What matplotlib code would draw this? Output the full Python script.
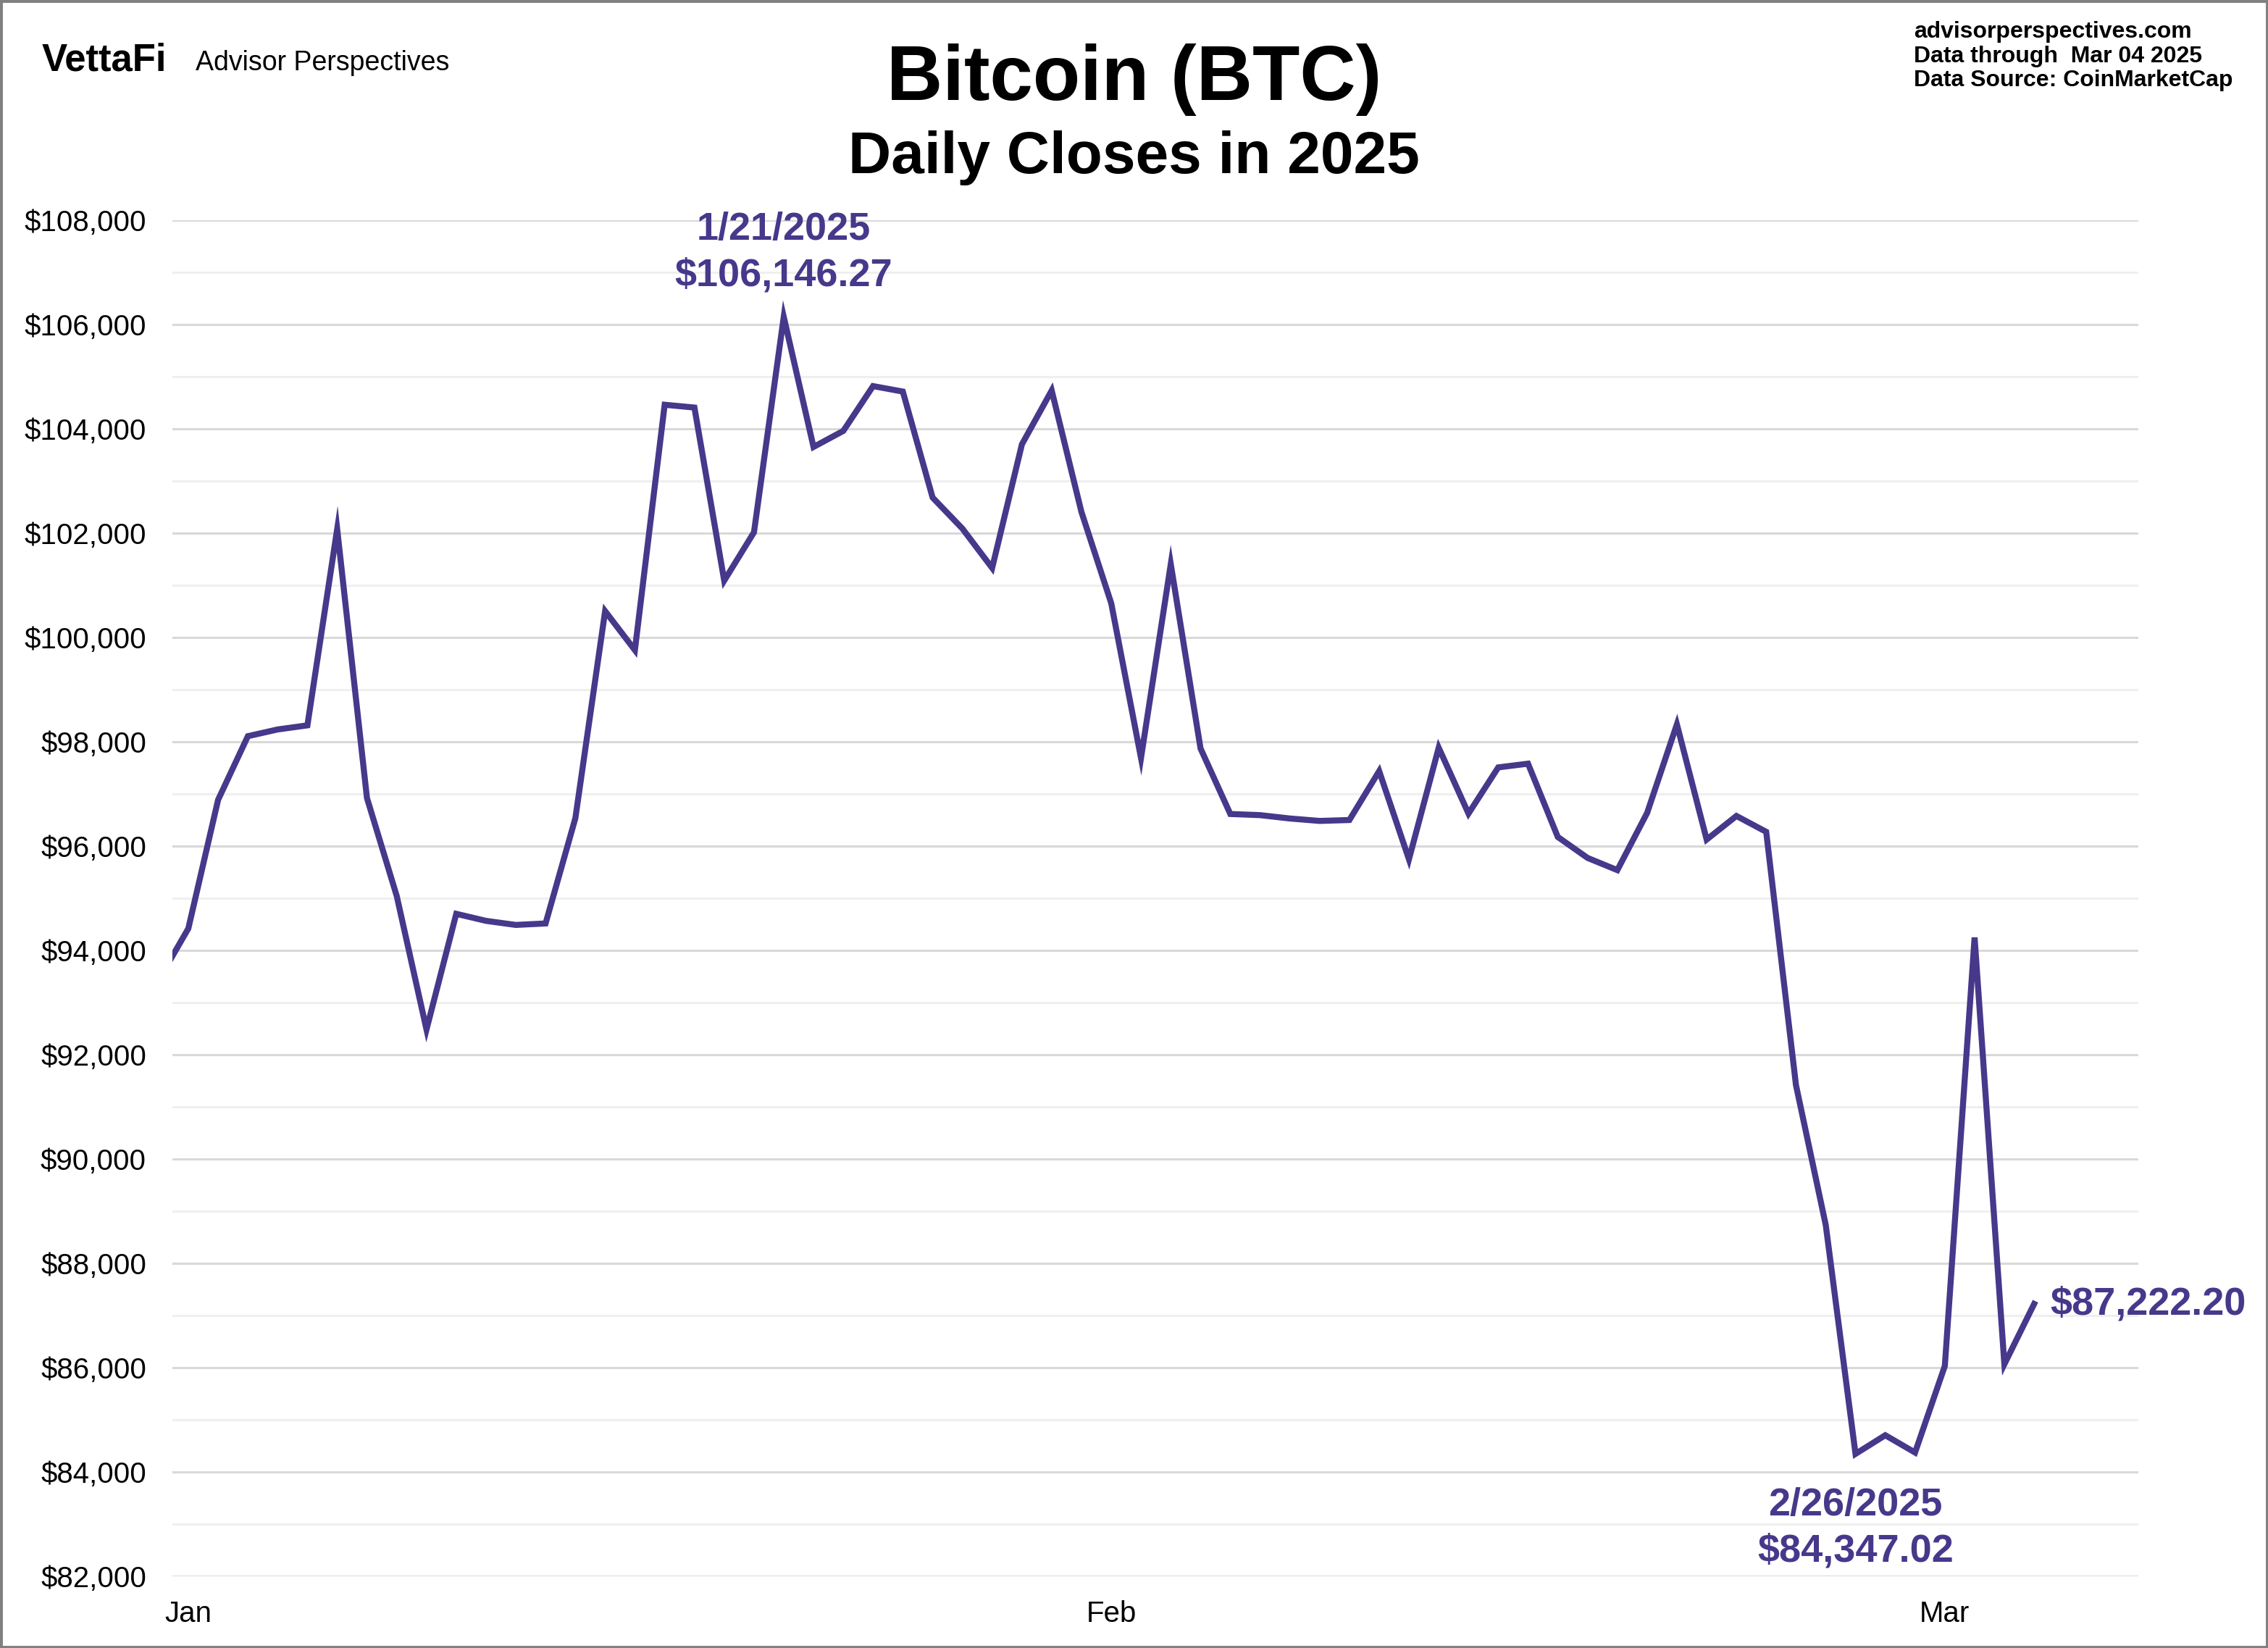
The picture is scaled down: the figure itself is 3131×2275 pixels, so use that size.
import matplotlib
matplotlib.use("Agg")
import matplotlib.pyplot as plt
from matplotlib.ticker import MultipleLocator, FuncFormatter
from matplotlib.patches import Rectangle
import pandas as pd

plt.rcParams['font.family'] = ['Liberation Sans', 'DejaVu Sans']

# daily closes, Dec 31 2024 .. Mar 04 2025
start_date = "2024-12-31"
end_date = "2025-03-04"
closes = [
    93429.20,
    94419.76, 96886.88, 98107.43, 98236.23, 98314.96, 102078.09, 96922.70,
    95043.52, 92484.04, 94701.46, 94566.59, 94488.44, 94516.52, 96534.05,
    100504.49, 99756.91, 104462.04, 104408.07, 101089.61, 102016.66, 106146.27,
    103653.07, 103960.17, 104819.48, 104714.65, 102682.50, 102087.69, 101332.48,
    103703.21, 104735.30, 102405.03,
    100655.91, 97688.98, 101405.42, 97871.82, 96615.44, 96593.57, 96529.09,
    96482.45, 96500.09, 97437.56, 95747.43, 97885.86, 96623.87, 97508.97,
    97580.35, 96175.03, 95773.38, 95539.54, 96635.61, 98333.94, 96125.55,
    96577.76, 96273.92, 91418.17, 88736.17, 84347.02, 84704.23, 84373.01,
    86031.91, 94248.35, 86065.67, 87222.20,
]
month_ticks = ["2025-01-01", "2025-02-01", "2025-03-01"]
month_labels = ["Jan", "Feb", "Mar"]

high_date, high_text = "2025-01-21", ["1/21/2025", "$106,146.27"]
low_date, low_text = "2025-02-26", ["2/26/2025", "$84,347.02"]
last_text = "$87,222.20"

LINE = "#47388b"
W, H = 3131, 2275

dates = pd.date_range(start_date, end_date, freq="D")
s = pd.Series(closes, index=dates)

fig = plt.figure(figsize=(W / 100, H / 100), dpi=100)
ax = fig.add_axes([238 / W, 1 - 2176 / H, (2952 - 238) / W, (2176 - 304) / H])

ax.plot(s.index, s.values, color=LINE, lw=6, solid_joinstyle="miter", zorder=3)

jan1 = pd.Timestamp("2025-01-01")
ax.set_xlim(jan1 - pd.Timedelta(days=0.535), jan1 + pd.Timedelta(days=65.5))
ax.set_ylim(82000, 108000)

ax.yaxis.set_major_locator(MultipleLocator(2000))
ax.yaxis.set_minor_locator(MultipleLocator(1000))
ax.yaxis.set_major_formatter(FuncFormatter(lambda v, p: f"${v:,.0f}"))
ax.set_xticks(pd.to_datetime(month_ticks))
ax.set_xticklabels(month_labels)

ax.grid(axis="y", which="major", color="#d9d9d9", lw=2.2)
ax.grid(axis="y", which="minor", color="#efefef", lw=2.2)
ax.set_axisbelow(True)
for sp in ax.spines.values():
    sp.set_visible(False)
ax.tick_params(axis="y", which="both", length=0, pad=26, labelsize=29)
ax.tick_params(axis="x", which="both", length=0, pad=24, labelsize=29)

# annotations
hx = pd.Timestamp(high_date)
ax.annotate(high_text[0], (hx, s[hx]), xytext=(0, 106), textcoords="offset pixels",
            ha="center", va="baseline", fontsize=39, fontweight="bold", color=LINE)
ax.annotate(high_text[1], (hx, s[hx]), xytext=(0, 43), textcoords="offset pixels",
            ha="center", va="baseline", fontsize=39, fontweight="bold", color=LINE)
lx = pd.Timestamp(low_date)
ax.annotate(low_text[0], (lx, s[lx]), xytext=(0, -85), textcoords="offset pixels",
            ha="center", va="baseline", fontsize=39, fontweight="bold", color=LINE)
ax.annotate(low_text[1], (lx, s[lx]), xytext=(0, -148), textcoords="offset pixels",
            ha="center", va="baseline", fontsize=39, fontweight="bold", color=LINE)
ax.annotate(last_text, (s.index[-1], s.values[-1]), xytext=(22, -14),
            textcoords="offset pixels", ha="left", va="baseline",
            fontsize=39, fontweight="bold", color=LINE, annotation_clip=False)

# header
def ftext(x, y, t, **kw):
    fig.text(x / W, 1 - y / H, t, va="baseline", **kw)

ftext(W / 2, 138, "Bitcoin (BTC)", ha="center", fontsize=77, fontweight="bold")
ftext(W / 2, 239, "Daily Closes in 2025", ha="center", fontsize=59, fontweight="bold")
ftext(58, 97, "VettaFi", ha="left", fontsize=38, fontweight="bold")
ftext(270, 97, "Advisor Perspectives", ha="left", fontsize=27)
ftext(2642, 52, "advisorperspectives.com", ha="left", fontsize=23, fontweight="bold")
ftext(2642, 86, "Data through  Mar 04 2025", ha="left", fontsize=23, fontweight="bold")
ftext(2642, 119, "Data Source: CoinMarketCap", ha="left", fontsize=23, fontweight="bold")

fig.patches.append(Rectangle((0, 0), 1, 1, transform=fig.transFigure, fill=False,
                             edgecolor="#808080", lw=5))

fig.savefig("out.png", dpi=100)
